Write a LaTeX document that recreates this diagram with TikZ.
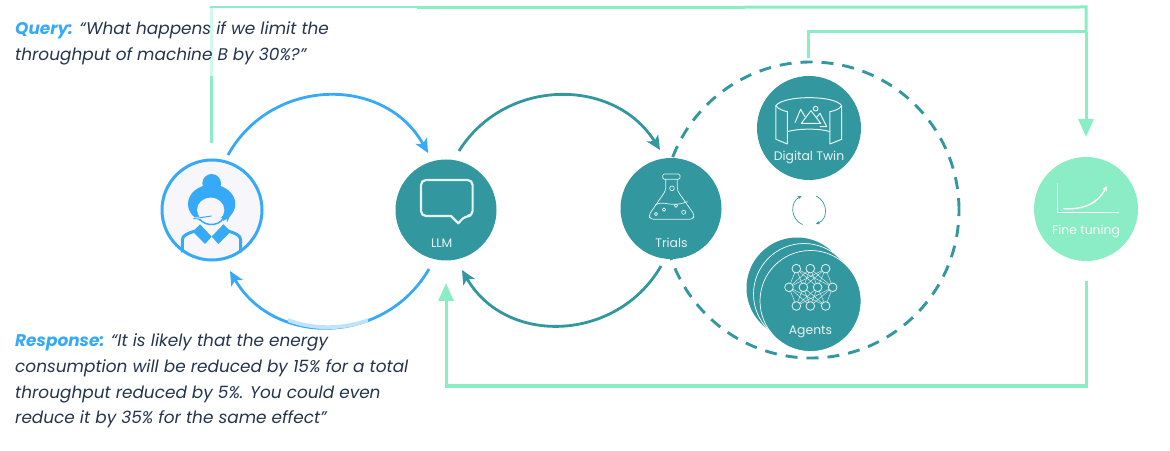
\documentclass[tikz,border=0pt]{standalone}
\usepackage{fontspec}
\setmainfont{Poppins}
\usetikzlibrary{arrows.meta,calc}
\definecolor{cblue}{HTML}{36A9F8}
\definecolor{clight}{HTML}{BFE3FD}
\definecolor{cteal}{HTML}{33979F}
\definecolor{cmint}{HTML}{8BEDC5}
\definecolor{cminl}{HTML}{D2F8E9}
\definecolor{ctext}{HTML}{24344D}
\definecolor{cface}{HTML}{F7F7FB}
\definecolor{cicon}{HTML}{E6F3F3}
\tikzset{
  disc/.style={circle,inner sep=0pt,minimum size=#1,fill=cteal},
  lab/.style={text=cicon,font=\fontsize{12.4}{14}\selectfont,inner sep=0pt},
  bluearc/.style={draw=cblue,line width=2.8pt,-{Stealth[length=14pt,width=13pt,inset=3.5pt]}},
  tealarc/.style={draw=cteal,line width=2.8pt,-{Stealth[length=14pt,width=13pt,inset=3.5pt]}},
  mintln/.style={draw=cmint,line width=3pt},
  mintar/.style={draw=cmint,line width=3pt,-{Triangle[length=18pt,width=15pt]}},
  iconln/.style={draw=cicon,line width=.7pt,line join=round,line cap=round},
  quote/.style={anchor=north west,align=left,inner sep=0pt,text=ctext,
    font=\fontsize{16.9}{25.8}\selectfont\itshape},
  zoomA/.style={shift={(150,320)},x=.3333pt,y=-.3333pt},
  zoomB/.style={shift={(610,390)},x=.3333pt,y=-.3333pt},
  zoomC/.style={shift={(1020,340)},x=.3333pt,y=-.3333pt},
}
\begin{document}
\begin{tikzpicture}[x=1pt,y=1pt]
\useasboundingbox (0,0) rectangle (1170,450);
\node[circle,draw=cteal,line width=2.9pt,dash pattern=on 12pt off 9pt,minimum size=296pt,inner sep=0pt] (ring) at (811,240) {};
\node[circle,draw=cblue,line width=3pt,fill=cface,minimum size=100pt,inner sep=0pt] (user) at (212,240) {};
\node[disc=101pt] (llm) at (446,240) {};
\node[disc=101pt] (trials) at (671,241.5) {};
\node[disc=104pt] (twin) at (809,322) {};
\node[disc=101pt] (agentA) at (797,162) {};
\node[disc=101pt,draw=white,line width=.7pt] (agentB) at (804,156) {};
\node[disc=101pt,draw=white,line width=.7pt] (agentC) at (810.5,149) {};
\node[disc=104pt,fill=cmint] (fine) at (1086,241) {};
\coordinate (uA) at ($(user)+(16,55)$);
\coordinate (lA) at ($(llm)+(-18,57)$);
\coordinate (lB) at ($(llm)+(13,59)$);
\coordinate (tA) at ($(trials)+(-11,58.5)$);
\coordinate (tB) at ($(trials)+(-10,-57.5)$);
\coordinate (lC) at ($(llm)+(16,-60)$);
\coordinate (lD) at ($(llm)+(-17,-59)$);
\coordinate (uB) at ($(user)+(18,-61)$);
\coordinate (uTop) at ($(user)+(-1,67)$);
\coordinate (corner1) at (211,443);
\coordinate (corner2) at (1086,443);
\coordinate (corner3) at (808,418);
\coordinate (join) at (1086,418);
\coordinate (ringTop) at ($(ring.north)+(-3,3)$);
\coordinate (fineTop) at ($(fine)+(0,72)$);
\coordinate (fineBot) at ($(fine)+(0,-72)$);
\coordinate (corner4) at (1086,64);
\coordinate (corner5) at (446,64);
\coordinate (llmBot) at (446,167);
\draw[bluearc] (uA) to[out=61,in=119,looseness=1.14] (lA);
\draw[bluearc] (lD) to[out=240,in=300,looseness=1.13] (uB);
\begin{scope}
\clip (288,100) rectangle (368,150);
\draw[draw=clight,line width=3.8pt] (lD) to[out=240,in=300,looseness=1.13] (uB);
\end{scope}
\draw[tealarc] (lB) to[out=58,in=122,looseness=1.10] (tA);
\draw[tealarc] (tB) to[out=240,in=300,looseness=1.13] (lC);
\draw[mintln,line width=2.2pt] (uTop) -- (corner1) -- (417,443);
\draw[mintln] (417,442.5) -- (corner2) -- (join);
\draw[mintln] (uTop) -- (211,374);
\draw[cminl,line width=3pt] (211,442) -- (211,374);
\draw[mintar] (join) -- (fineTop);
\draw[mintln] (ringTop) -- (corner3) -- (join);
\draw[mintar] (fineBot) -- (corner4) -- (corner5) -- (llmBot);
% user icon
\begin{scope}[zoomA]
\fill[cblue] (185,160) circle (28);
\fill[cblue] (185,222) ellipse (71 and 58);
\fill[cblue] (116,225) -- (135,268) -- (150,240) -- cycle;
\fill[cblue] (254,225) -- (232,276) -- (222,240) -- cycle;
\fill[cface] (182,240) ellipse (41 and 37);
\fill[cface] (130,280) rectangle (240,300);
\fill[cface] (150,265) rectangle (220,285);
\draw[cblue,line width=1.5pt] (140,250) .. controls (150,290) and (205,295) .. (222,262);
\draw[cface,line width=2.2pt] (130,266) -- (185,258);
\draw[cblue,line width=1pt] (130,266) -- (185,258);
\fill[cblue] (150,283) -- (185,320) -- (165,342) -- (128,305) -- cycle;
\fill[cblue] (220,283) -- (185,320) -- (205,342) -- (242,305) -- cycle;
\draw[cblue,line width=3pt] (97,367) -- (97,330) .. controls (97,315) and (115,310) .. (135,303);
\draw[cblue,line width=3pt] (272,367) -- (272,330) .. controls (272,315) and (255,310) .. (235,303);
\end{scope}
% LLM icon
\begin{scope}[zoomA]
\draw[iconln,line width=2.2pt,rounded corners=5pt] (813,150) -- (968,150) -- (968,258) -- (945,258) [sharp corners] -- (925,280) -- (903,258) [rounded corners=5pt] -- (813,258) -- cycle;
\end{scope}
\node[lab] (llmL) at (441.7,207) {LLM};
% Flask
\begin{scope}[zoomB]
\draw[iconln,rounded corners=1.5pt] (158,342) rectangle (210,358);
\draw[iconln,rounded corners=3pt] (167,358) -- (167,392) -- (116,466) -- (122,478) -- (248,478) -- (254,466) -- (202,392) -- (202,358);
\draw[iconln] (137,434) .. controls (165,420) and (180,445) .. (232,425);
\draw[iconln] (186,385) circle (7) (138,462) circle (5) (162,449) circle (5) (198,437) circle (5) (221,457) circle (6);
\end{scope}
\node[lab] (trialsL) at (671.5,207) {Trials};
% Digital twin
\begin{scope}[zoomB]
\draw[iconln,line width=1pt] (498,137) .. controls (520,105) and (675,105) .. (695,137);
\draw[iconln,line width=1pt] (498,137) -- (498,238) -- (532,252) -- (532,155);
\draw[iconln,line width=1pt] (498,137) .. controls (505,148) and (520,152) .. (532,155);
\draw[iconln,line width=1pt] (695,137) -- (695,238) -- (660,252) -- (660,155);
\draw[iconln,line width=1pt] (695,137) .. controls (688,148) and (675,152) .. (660,155);
\draw[iconln,line width=1pt] (532,215) .. controls (565,205) and (630,205) .. (660,215);
\draw[iconln,line width=1pt] (555,188) -- (572,148) -- (585,170);
\draw[iconln,line width=1pt] (574,190) -- (603,152) -- (632,190) -- cycle;
\draw[iconln,line width=1pt] (620,172) -- (630,160) -- (650,200) -- (630,200);
\draw[iconln,line width=1pt] (617,146) circle (7);
\end{scope}
\node[lab] (twinT) at (809,292.5) {Digital Twin};
% rotating arrows
\begin{scope}[zoomB]
\draw[draw=cteal,line width=.7pt,{Stealth[length=4pt,width=3.5pt]}-] (575,408) .. controls (540,425) and (540,478) .. (578,494);
\draw[draw=cteal,line width=.7pt,-{Stealth[length=4pt,width=3.5pt]}] (618,408) .. controls (655,425) and (655,478) .. (618,492);
\end{scope}
% Agents
\begin{scope}[zoomB]
\foreach \a in {559,601,647}{
  \foreach \b in {537,580,623,668}{
    \draw[iconln,line width=.45pt] (\a,626) -- (\b,682);
    \draw[iconln,line width=.45pt] (\a,738) -- (\b,682);
  }
}
\foreach \a in {559,601,647}{
  \draw[iconln,fill=cteal,line width=.8pt] (\a,626) circle (13);
  \draw[iconln,fill=cteal,line width=.8pt] (\a,738) circle (13);
}
\foreach \b in {537,580,623,668}{
  \draw[iconln,fill=cteal,line width=.8pt] (\b,682) circle (13);
}
\end{scope}
\node[lab] (agentsL) at (810.5,118.5) {Agents};
% Fine tuning
\begin{scope}[zoomC]
\draw[iconln,draw=white,line width=1.2pt] (113,222) -- (113,308) -- (295,308);
\draw[draw=white,line width=1.4pt,-{Stealth[length=5pt,width=5pt]}] (130,296) .. controls (190,300) and (235,280) .. (260,228);
\end{scope}
\node[lab,text=white!92!cmint] (fineL) at (1086,218.5) {Fine tuning};
% Text
\node[quote] (query) at (15,428.5) {\textcolor{cblue}{\bfseries Query:} “What happens if we limit the\\throughput of machine B by 30\%?”};
\node[quote] (resp) at (15,116.5) {\textcolor{cblue}{\bfseries Response:} “It is likely that the energy\\consumption will be reduced by 15\% for a total\\throughput reduced by 5\%. You could even\\reduce it by 35\% for the same effect”};
\end{tikzpicture}
\end{document}
